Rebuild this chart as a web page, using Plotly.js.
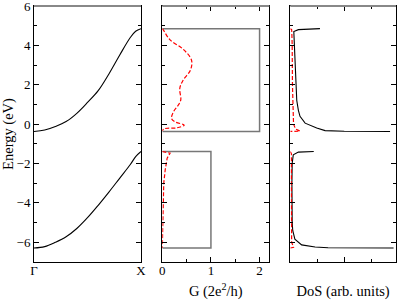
<!DOCTYPE html>
<html>
<head>
<meta charset="utf-8">
<script src="https://cdn.plot.ly/plotly-3.0.1.min.js"></script>
<style>html,body{margin:0;padding:0;background:#fff}#chart{width:399px;height:300px}</style>
</head>
<body>
<div id="chart"></div>
<script>
// Band structure (k from Γ=0 to X=1)
const kPoints = [0, 0.1, 0.2, 0.3, 0.4, 0.5, 0.6, 0.7, 0.8, 0.9, 0.95, 1.0];
const bandUpper = [-0.37, -0.3, -0.12, 0.13, 0.55, 1.1, 1.7, 2.55, 3.5, 4.4, 4.72, 4.85];
const bandLower = [-6.29, -6.22, -6.0, -5.72, -5.3, -4.75, -4.12, -3.45, -2.75, -2.05, -1.65, -1.39];
const kTickVals = [0, 1];
const kTickText = ['Γ', 'X'];

// Conductance: ideal steps (gray) and computed (red dashed)
const gStepUpperG = [0, 2, 2, 0];
const gStepUpperE = [-0.37, -0.37, 4.85, 4.85];
const gStepLowerG = [0, 1, 1, 0];
const gStepLowerE = [-6.29, -6.29, -1.39, -1.39];
const gCalcUpperG = [0, 0.02, 0.16, 0.43, 0.60, 0.58, 0.43, 0.36, 0.38, 0.33, 0.23, 0.19, 0.26, 0.45, 0.29, 0.05, 0];
const gCalcUpperE = [4.85, 4.79, 4.28, 3.8, 3.26, 2.75, 2.24, 1.82, 1.23, 0.97, 0.63, 0.29, 0.12, -0.05, -0.19, -0.23, -0.33];
const gCalcLowerG = [0, 0.06, 0.16, 0.1, 0.06, 0.03, 0.02, 0.01, 0.01, 0];
const gCalcLowerE = [-1.39, -1.41, -1.47, -1.73, -2.32, -3.0, -3.84, -5.0, -5.52, -6.29];

// Density of states
const dosUpperX = [1.1, 0.68, 0.3, 0.13, 0.14, 0.17, 0.2, 0.22, 0.24, 0.3, 0.36, 0.55, 0.98, 1.29, 2.0, 3.7];
const dosUpperE = [4.85, 4.84, 4.8, 4.7, 4.4, 4.0, 3.0, 2.0, 1.2, 0.7, 0.4, 0.05, -0.2, -0.33, -0.36, -0.37];
const dosLowerX = [0.87, 0.3, 0.11, 0.07, 0.06, 0.06, 0.07, 0.09, 0.17, 0.42, 0.92, 1.4, 3.83];
const dosLowerE = [-1.39, -1.42, -1.56, -2.0, -3.0, -4.0, -5.0, -5.4, -5.84, -6.13, -6.24, -6.28, -6.29];
const dosCalcUpperX = [0, 0.05, 0.06, 0.07, 0.08, 0.1, 0.12, 0.2, 0.36, 0];
const dosCalcUpperE = [4.85, 4.8, 4.5, 4.0, 2.0, 0.5, 0.0, -0.25, -0.35, -0.37];
const dosCalcLowerX = [0, 0.04, 0.04, 0.04, 0.05, 0.12, 0];
const dosCalcLowerE = [-1.39, -1.5, -3.0, -5.0, -6.0, -6.25, -6.29];

const black = '#000';
const red = '#ff0000';
const gray = '#777';
const dashed = '4px,2px';
const traces = [
  {x: kPoints, y: bandUpper, xaxis: 'x', yaxis: 'y', line: {color: black, width: 1.1, shape: 'spline'}},
  {x: kPoints, y: bandLower, xaxis: 'x', yaxis: 'y', line: {color: black, width: 1.1, shape: 'spline'}},
  {x: gStepUpperG, y: gStepUpperE, xaxis: 'x2', yaxis: 'y2', line: {color: gray, width: 1.5}},
  {x: gStepLowerG, y: gStepLowerE, xaxis: 'x2', yaxis: 'y2', line: {color: gray, width: 1.5}},
  {x: gCalcUpperG, y: gCalcUpperE, xaxis: 'x2', yaxis: 'y2', line: {color: red, width: 1.2, dash: dashed, shape: 'spline'}},
  {x: gCalcLowerG, y: gCalcLowerE, xaxis: 'x2', yaxis: 'y2', line: {color: red, width: 1.2, dash: dashed}},
  {x: dosUpperX, y: dosUpperE, xaxis: 'x3', yaxis: 'y3', line: {color: black, width: 1.1}},
  {x: dosLowerX, y: dosLowerE, xaxis: 'x3', yaxis: 'y3', line: {color: black, width: 1.1}},
  {x: dosCalcUpperX, y: dosCalcUpperE, xaxis: 'x3', yaxis: 'y3', line: {color: red, width: 1.2, dash: dashed}},
  {x: dosCalcLowerX, y: dosCalcLowerE, xaxis: 'x3', yaxis: 'y3', line: {color: red, width: 1.2, dash: dashed}}
];
traces.forEach(t => { t.mode = 'lines'; t.showlegend = false; t.hoverinfo = 'skip'; });

const family = 'Liberation Serif, Times New Roman, serif';
const tickFont = {family: family, size: 13, color: '#000'};
const titleFont = {family: family, size: 14.5, color: '#000'};
const yBase = {
  range: [-7, 6], dtick: 2, ticks: 'inside', ticklen: 5, tickcolor: black,
  minor: {dtick: 1, ticks: 'inside', ticklen: 3, tickcolor: black},
  showline: true, linecolor: black, linewidth: 1, mirror: 'ticks',
  showgrid: false, zeroline: false, fixedrange: true, tickfont: tickFont,
  ticklabeloverflow: 'allow'
};
const xBase = {
  showline: true, linecolor: black, linewidth: 1, mirror: 'ticks',
  showgrid: false, zeroline: false, fixedrange: true, tickcolor: black, tickfont: tickFont,
  ticklabeloverflow: 'allow', ticklabelstandoff: -4
};
const topEdge = (xr, yr) => ({type: 'line', xref: xr + ' domain', yref: yr + ' domain', x0: 0, x1: 1, y0: 1, y1: 1,
  line: {color: '#888', width: 2}});
const layout = {
  width: 399, height: 300,
  margin: {l: 34, r: 3, t: 6, b: 38},
  paper_bgcolor: '#fff', plot_bgcolor: '#fff',
  font: {family: family, size: 13, color: '#000'},
  showlegend: false,
  shapes: [topEdge('x', 'y'), topEdge('x2', 'y2'), topEdge('x3', 'y3')],
  xaxis: Object.assign({}, xBase, {domain: [0, 0.2956], range: [0, 1], tickvals: kTickVals, ticktext: kTickText, ticks: ''}),
  yaxis: Object.assign({}, yBase, {anchor: 'x', title: {text: 'Energy (eV)', font: titleFont}}),
  xaxis2: Object.assign({}, xBase, {domain: [0.3544, 0.65], range: [0, 2.2], dtick: 1, ticks: 'inside', ticklen: 5,
    minor: {dtick: 0.5, ticks: 'inside', ticklen: 3, tickcolor: black}, anchor: 'y2',
    title: {text: 'G (2e<sup>2</sup>/h)', font: titleFont}}),
  yaxis2: Object.assign({}, yBase, {anchor: 'x2', showticklabels: false}),
  xaxis3: Object.assign({}, xBase, {domain: [0.708, 1], range: [0, 3.92], dtick: 2, ticks: 'inside', ticklen: 5,
    minor: {dtick: 1, ticks: 'inside', ticklen: 3, tickcolor: black}, anchor: 'y3', showticklabels: false,
    title: {text: 'DoS (arb. units)', font: titleFont}}),
  yaxis3: Object.assign({}, yBase, {anchor: 'x3', showticklabels: false})
};
Plotly.newPlot('chart', traces, layout, {staticPlot: true, displayModeBar: false});
</script>
</body>
</html>
